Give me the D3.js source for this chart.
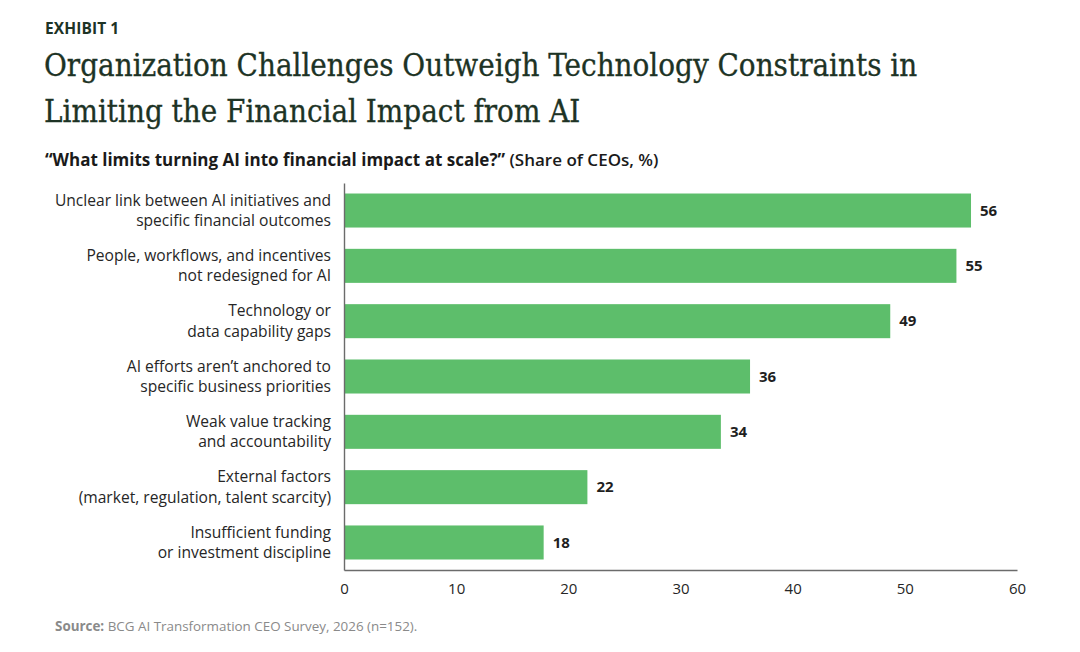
<!DOCTYPE html>
<html>
<head>
<meta charset="utf-8">
<script src="https://cdn.jsdelivr.net/npm/d3@7"></script>
<style>
  body { margin: 0; background: #fff; }
  svg { display: block; }
</style>
</head>
<body>
<script>
// category labels, two lines each
const categories = [
  ["Unclear link between AI initiatives and", "specific financial outcomes"],
  ["People, workflows, and incentives", "not redesigned for AI"],
  ["Technology or", "data capability gaps"],
  ["AI efforts aren\u2019t anchored to", "specific business priorities"],
  ["Weak value tracking", "and accountability"],
  ["External factors", "(market, regulation, talent scarcity)"],
  ["Insufficient funding", "or investment discipline"]
];
// share of CEOs, % (bar lengths, labels rounded)
const shares = [55.9, 54.6, 48.7, 36.2, 33.6, 21.7, 17.8];
const xTicks = [0, 10, 20, 30, 40, 50, 60];

const w = 1080, h = 652;
const sans = "'Open Sans', 'Noto Sans', sans-serif";
const serif = "'DejaVu Serif Condensed', 'DejaVu Serif', serif";
const titleColor = "#1d3325";

const svg = d3.select("body").append("svg")
  .attr("width", w)
  .attr("height", h);

// header
svg.append("text")
  .attr("x", 45).attr("y", 34)
  .style("font-family", sans).style("font-weight", 700)
  .style("font-size", "15.5px").style("letter-spacing", "0.1px")
  .attr("fill", titleColor)
  .text("EXHIBIT 1");

const titleLines = [
  "Organization Challenges Outweigh Technology Constraints in",
  "Limiting the Financial Impact from AI"
];
svg.append("g").selectAll("text")
  .data(titleLines).enter().append("text")
  .attr("x", 44)
  .attr("y", (d, i) => 76 + i * 46)
  .style("font-family", serif)
  .style("font-stretch", "condensed")
  .style("font-size", "31px")
  .attr("fill", titleColor)
  .attr("stroke", titleColor)
  .attr("stroke-width", 0.3)
  .text(d => d);

const sub = svg.append("text")
  .attr("x", 45).attr("y", 166)
  .style("font-family", sans).style("font-size", "17px")
  .attr("fill", "#1a1a1a");
sub.append("tspan").style("font-weight", 700)
  .text("\u201cWhat limits turning AI into financial impact at scale?\u201d");
sub.append("tspan").style("font-weight", 600)
  .text(" (Share of CEOs, %)");

// chart area
const plotLeft = 344, plotRight = 1017, plotTop = 183, plotBottom = 570;

const xScale = d3.scaleLinear().domain([0, 60]).range([plotLeft, plotRight]);
const yScale = d3.scaleBand()
  .domain(d3.range(categories.length))
  .range([plotTop, plotBottom])
  .paddingInner(0.385)
  .paddingOuter(0.19);

svg.append("g").selectAll("rect")
  .data(shares).enter().append("rect")
  .attr("x", xScale(0))
  .attr("y", (d, i) => yScale(i))
  .attr("width", d => xScale(d) - xScale(0))
  .attr("height", yScale.bandwidth())
  .attr("fill", "#5dbe6b");

// value labels
svg.append("g").selectAll("text")
  .data(shares).enter().append("text")
  .attr("x", d => xScale(d) + 9)
  .attr("y", (d, i) => yScale(i) + yScale.bandwidth() / 2)
  .attr("dy", "0.35em")
  .style("font-family", sans).style("font-weight", 700)
  .style("font-size", "15px")
  .attr("fill", "#1f1f1f")
  .text(d => Math.round(d));

// category labels
const cat = svg.append("g").selectAll("text")
  .data(categories).enter().append("text")
  .attr("text-anchor", "end")
  .attr("x", plotLeft - 13)
  .attr("y", (d, i) => yScale(i) + yScale.bandwidth() / 2)
  .style("font-family", sans).style("font-size", "15.6px")
  .attr("fill", "#262626");
cat.selectAll("tspan")
  .data(d => d).enter().append("tspan")
  .attr("x", plotLeft - 13)
  .attr("dy", (d, i) => i === 0 ? "-0.3em" : "1.3em")
  .text(d => d);

// x axis
const xAxis = d3.axisBottom(xScale)
  .tickValues(xTicks)
  .tickSize(0)
  .tickPadding(13);
const gx = svg.append("g")
  .attr("transform", "translate(0," + plotBottom + ")")
  .call(xAxis);
gx.select(".domain").attr("stroke", "#6b6b6b").attr("stroke-width", 1.4);
gx.selectAll("text")
  .style("font-family", sans).style("font-size", "15px")
  .attr("fill", "#262626");

// y axis line
const gy = svg.append("g")
  .attr("transform", "translate(" + plotLeft + ",0)")
  .call(d3.axisLeft(yScale).tickSize(0).tickFormat(""));
gy.select(".domain").attr("stroke", "#6b6b6b").attr("stroke-width", 1.4);

// source note
const src = svg.append("text")
  .attr("x", 55).attr("y", 631)
  .style("font-family", sans).style("font-size", "13.4px")
  .attr("fill", "#8a8a8a");
src.append("tspan").style("font-weight", 700).text("Source:");
src.append("tspan").text(" BCG AI Transformation CEO Survey, 2026 (n=152).");
</script>
</body>
</html>
